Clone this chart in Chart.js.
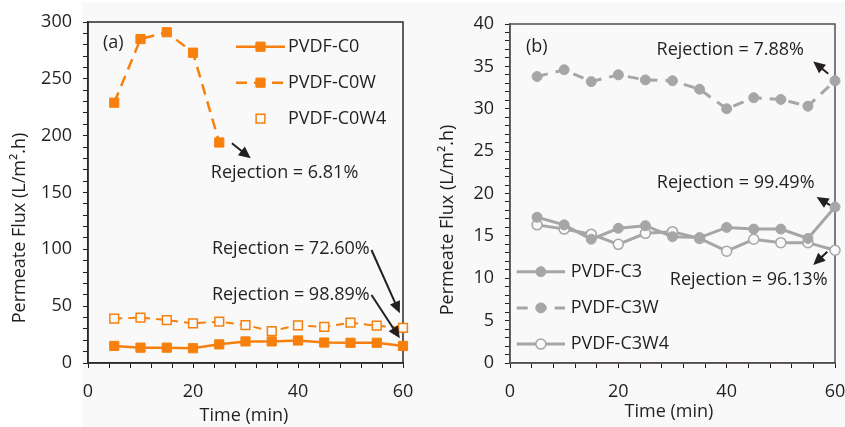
<!DOCTYPE html>
<html>
<head>
<meta charset="utf-8">
<script src="https://cdn.jsdelivr.net/npm/chart.js@4/dist/chart.umd.min.js"></script>
<style>
  html, body { margin: 0; padding: 0; background: #fff; }
  #page { position: relative; width: 845px; height: 427px; overflow: hidden; }
  #shade { position: absolute; left: 82px; top: 2px; right: 0; bottom: 0; background: #f9f9f9; }
  canvas { position: absolute; top: 0; }
  #chartA { left: 0; }
  #chartB { left: 420px; }
</style>
</head>
<body>
<div id="page">
  <div id="shade"></div>
  <canvas id="chartA" width="420" height="427"></canvas>
  <canvas id="chartB" width="425" height="427"></canvas>
</div>
<script>
// data (flux in L/m2.h, time in min)
const timeMin = [5, 10, 15, 20, 25, 30, 35, 40, 45, 50, 55, 60];

const fluxC0   = [15, 13.5, 13.5, 13, 16.4, 19, 19, 19.8, 18, 17.8, 17.8, 15];
const fluxC0W  = [229, 285, 291, 273, 194];
const fluxC0W4 = [39, 39.9, 37.8, 34.9, 36.3, 33.4, 28.1, 33.2, 31.7, 35.5, 32.8, 31];

const fluxC3   = [17.2, 16.3, 14.6, 15.9, 16.2, 14.9, 14.8, 16.0, 15.8, 15.8, 14.7, 18.4];
const fluxC3W  = [33.8, 34.6, 33.2, 34.0, 33.4, 33.3, 32.3, 30.0, 31.3, 31.1, 30.3, 33.3];
const fluxC3W4 = [16.3, 15.8, 15.2, 14.0, 15.3, 15.5, 14.7, 13.2, 14.6, 14.2, 14.2, 13.3];

const seriesA = ['PVDF-C0', 'PVDF-C0W', 'PVDF-C0W4'];
const seriesB = ['PVDF-C3', 'PVDF-C3W', 'PVDF-C3W4'];

const fluxTicksA = [0, 50, 100, 150, 200, 250, 300];
const fluxTicksB = [0, 5, 10, 15, 20, 25, 30, 35, 40];
const timeTicks  = [0, 20, 40, 60];

const rejectionA = ['Rejection = 6.81%', 'Rejection = 72.60%', 'Rejection = 98.89%'];
const rejectionB = ['Rejection = 7.88%', 'Rejection = 99.49%', 'Rejection = 96.13%'];

const ORANGE = '#f7800d';
const GREY = '#a6a6a6';
const INK = '#231f20';
const PAPER = '#f9f9f9';
const FAMILY = '"Open Sans", sans-serif';

function points(ys) {
    return ys.map((y, i) => ({ x: timeMin[i], y: y }));
}

// minor tick marks, labels only on the major values
function tickBuilder(step, max) {
    return function(scale) {
        const t = [];
        for (let v = 0; v <= max + 1e-6; v += step) t.push({ value: Math.round(v * 1000) / 1000 });
        scale.ticks = t;
    };
}

function axes(yMax, yStep, yMajors, yWidth, frame) {
    const tickFont = { family: FAMILY, size: 18 };
    return {
        x: {
            type: 'linear', min: 0, max: 60,
            afterBuildTicks: tickBuilder(4, 60),
            // fixed plot box: no extra room for the edge labels
            afterFit: s => { s.height = 64; s.paddingLeft = 0; s.paddingRight = 0; },
            ticks: { autoSkip: false, maxRotation: 0, padding: 13, color: INK, font: tickFont,
                     callback: v => timeTicks.includes(v) ? v : '' },
            grid: { drawOnChartArea: false, tickLength: 5, color: INK, lineWidth: 1 },
            border: { color: frame, width: 1.5 }
        },
        y: {
            type: 'linear', min: 0, max: yMax,
            afterBuildTicks: tickBuilder(yStep, yMax),
            afterFit: s => { s.width = yWidth; s.paddingTop = 0; s.paddingBottom = 0; },
            ticks: { autoSkip: false, padding: 11, color: INK, font: tickFont,
                     callback: v => yMajors.includes(v) ? v : '' },
            grid: { drawOnChartArea: false, tickLength: 5, color: INK, lineWidth: 1 },
            border: { color: frame, width: 1.5 }
        }
    };
}

function arrow(ctx, x1, y1, x2, y2) {
    const a = Math.atan2(y2 - y1, x2 - x1), head = 12, w = 5.5;
    ctx.beginPath();
    ctx.moveTo(x1, y1);
    ctx.lineTo(x2 - Math.cos(a) * head * 0.8, y2 - Math.sin(a) * head * 0.8);
    ctx.stroke();
    ctx.beginPath();
    ctx.moveTo(x2, y2);
    ctx.lineTo(x2 - head * Math.cos(a) + w * Math.sin(a), y2 - head * Math.sin(a) - w * Math.cos(a));
    ctx.lineTo(x2 - head * Math.cos(a) - w * Math.sin(a), y2 - head * Math.sin(a) + w * Math.cos(a));
    ctx.closePath();
    ctx.fill();
}

function marker(ctx, d, x, y) {
    const r = d.pointRadius;
    ctx.beginPath();
    if (d.pointStyle === 'rect') {
        const s = r * Math.SQRT1_2;
        ctx.rect(x - s, y - s, 2 * s, 2 * s);
    } else {
        ctx.arc(x, y, r, 0, Math.PI * 2);
    }
    ctx.fill();
    if (d.pointBorderWidth > 0) ctx.stroke();
}

const paperPlugin = {
    id: 'paper',
    beforeDatasetsDraw(chart, args, o) {
        const a = chart.chartArea, ctx = chart.ctx;
        ctx.save();
        ctx.strokeStyle = o.frame;
        ctx.lineWidth = 1.5;
        ctx.strokeRect(a.left, a.top, a.right - a.left, a.bottom - a.top);
        ctx.restore();
    },
    afterDatasetsDraw(chart, args, o) {
        const ctx = chart.ctx, xs = chart.scales.x, ys = chart.scales.y;
        ctx.save();
        ctx.font = '18px ' + FAMILY;
        ctx.fillStyle = INK;
        ctx.strokeStyle = INK;
        ctx.textBaseline = 'middle';

        // axis titles
        ctx.textAlign = 'center';
        ctx.fillText('Time (min)', o.xTitle[0], o.xTitle[1]);
        ctx.save();
        ctx.translate(o.yTitle[0], o.yTitle[1]);
        ctx.rotate(-Math.PI / 2);
        ctx.fillText('Permeate Flux (L/m\u00b2.h)', 0, 0);
        ctx.restore();

        // panel tag
        ctx.textAlign = 'left';
        ctx.fillText(o.tag[0], o.tag[1], o.tag[2]);

        // rejection notes
        ctx.lineWidth = 2;
        o.notes.forEach(n => {
            ctx.fillText(n.text, xs.getPixelForValue(n.x), ys.getPixelForValue(n.y));
            arrow(ctx, xs.getPixelForValue(n.from[0]), ys.getPixelForValue(n.from[1]),
                       xs.getPixelForValue(n.to[0]), ys.getPixelForValue(n.to[1]));
        });

        // legend
        const L = o.legend;
        chart.data.datasets.forEach((d, i) => {
            const y = L.y + i * L.gap;
            if (d.legendLine !== false) {
                ctx.save();
                ctx.strokeStyle = d.borderColor;
                ctx.lineWidth = d.borderWidth;
                ctx.setLineDash(d.borderDash || []);
                ctx.beginPath();
                ctx.moveTo(L.x, y);
                ctx.lineTo(L.x + L.len, y);
                ctx.stroke();
                ctx.restore();
            }
            ctx.save();
            ctx.fillStyle = d.pointBackgroundColor;
            ctx.strokeStyle = d.pointBorderColor;
            ctx.lineWidth = d.pointBorderWidth;
            marker(ctx, d, L.x + L.len / 2, y);
            ctx.restore();
            ctx.fillStyle = INK;
            ctx.fillText(d.label, L.textX, y);
        });
        ctx.restore();
    }
};

function baseOptions(scales, paper, padding) {
    return {
        responsive: false,
        animation: false,
        events: [],
        clip: false,
        layout: { padding: padding },
        scales: scales,
        plugins: { legend: { display: false }, tooltip: { enabled: false }, paper: paper }
    };
}

document.addEventListener('DOMContentLoaded', function() {

    new Chart(document.getElementById('chartA'), {
        type: 'line',
        plugins: [paperPlugin],
        data: { datasets: [
            { label: seriesA[0], data: points(fluxC0), borderColor: ORANGE, borderWidth: 2.5,
              pointStyle: 'rect', pointRadius: 6.5, pointBackgroundColor: ORANGE, pointBorderColor: ORANGE, pointBorderWidth: 1 },
            { label: seriesA[1], data: points(fluxC0W), borderColor: ORANGE, borderWidth: 2.5, borderDash: [11, 7],
              pointStyle: 'rect', pointRadius: 6.5, pointBackgroundColor: ORANGE, pointBorderColor: ORANGE, pointBorderWidth: 1 },
            { label: seriesA[2], data: points(fluxC0W4), borderColor: ORANGE, borderWidth: 2, borderDash: [8, 6], legendLine: false,
              pointStyle: 'rect', pointRadius: 6.2, pointBackgroundColor: PAPER, pointBorderColor: ORANGE, pointBorderWidth: 1.5 }
        ] },
        options: baseOptions(axes(300, 10, fluxTicksA, 88, '#2d2829'), {
            frame: '#2d2829',
            xTitle: [244, 415.5],
            yTitle: [20, 228],
            tag: ['(a)', 103, 43],
            notes: [
                { text: rejectionA[0], x: 23.4, y: 167, from: [27.4, 193.3], to: [31.0, 180.1] },
                { text: rejectionA[1], x: 23.6, y: 100, from: [54.0, 99.4], to: [59.4, 43.7] },
                { text: rejectionA[2], x: 23.6, y: 59.8, from: [54.0, 59.8], to: [59.4, 21.7] }
            ],
            legend: { x: 236, len: 49, textX: 288, y: 46.7, gap: 36 }
        }, { left: 0, top: 22, right: 17, bottom: 0 })
    });

    new Chart(document.getElementById('chartB'), {
        type: 'line',
        plugins: [paperPlugin],
        data: { datasets: [
            { label: seriesB[0], data: points(fluxC3), borderColor: GREY, borderWidth: 3,
              pointStyle: 'circle', pointRadius: 5, pointBackgroundColor: GREY, pointBorderColor: GREY, pointBorderWidth: 1 },
            { label: seriesB[1], data: points(fluxC3W), borderColor: GREY, borderWidth: 3, borderDash: [11, 8],
              pointStyle: 'circle', pointRadius: 5, pointBackgroundColor: GREY, pointBorderColor: GREY, pointBorderWidth: 1 },
            { label: seriesB[2], data: points(fluxC3W4), borderColor: GREY, borderWidth: 3,
              pointStyle: 'circle', pointRadius: 5, pointBackgroundColor: PAPER, pointBorderColor: GREY, pointBorderWidth: 1.5 }
        ] },
        options: baseOptions(axes(40, 1, fluxTicksB, 90, '#554e4f'), {
            frame: '#554e4f',
            xTitle: [249, 412],
            yTitle: [28, 220],
            tag: ['(b)', 106, 46.7],
            notes: [
                { text: rejectionB[0], x: 27.05, y: 36.96, from: [58.75, 34.13], to: [55.98, 35.58] },
                { text: rejectionB[1], x: 27.1, y: 21.2, from: [59.07, 18.64], to: [56.6, 19.6] },
                { text: rejectionB[2], x: 29.5, y: 9.78, from: [58.57, 13.12], to: [55.98, 11.55] }
            ],
            legend: { x: 96.7, len: 48.3, textX: 150.7, y: 271.7, gap: 36.2 }
        }, { left: 0, top: 24, right: 10, bottom: 0 })
    });

});
</script>
</body>
</html>
